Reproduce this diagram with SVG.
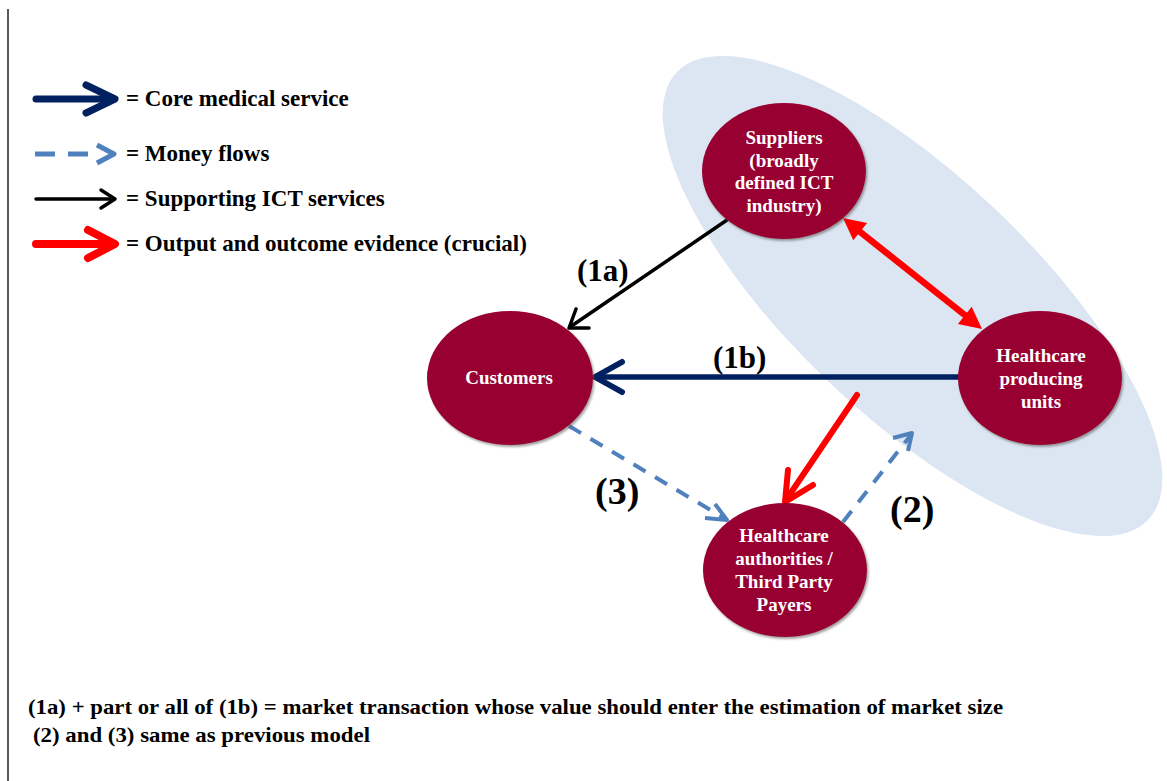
<svg xmlns="http://www.w3.org/2000/svg" width="1167" height="781" viewBox="0 0 1167 781">
  <defs>
    <filter id="nodeShadow" x="-10%" y="-10%" width="125%" height="125%">
      <feDropShadow dx="1.5" dy="2" stdDeviation="1" flood-color="#555" flood-opacity="0.55"/>
    </filter>
    <style>
      .bold { font-family: "Liberation Serif", "Times New Roman", serif; font-weight: bold; }
      .legend-text { font-size: 23px; fill: #000; }
      .node-shape { fill: #990033; filter: url(#nodeShadow); }
      .node-text { font-size: 19px; fill: #fff; text-anchor: middle; }
      .edge-label { fill: #000; }
      .core { stroke: #002060; fill: none; stroke-linecap: round; stroke-linejoin: round; }
      .money { stroke: #4F81BD; fill: none; stroke-linejoin: round; }
      .ict { stroke: #000; fill: none; stroke-linecap: round; stroke-linejoin: round; }
      .evidence { stroke: #FF0000; fill: none; stroke-linecap: round; stroke-linejoin: round; }
      .evidence-head { fill: #FF0000; }
      .note { font-size: 22px; fill: #000; }
    </style>
  </defs>

  <rect x="0" y="0" width="1167" height="781" fill="#fff"/>
  <!-- left margin rule -->
  <line x1="8" y1="9" x2="8" y2="781" stroke="#222" stroke-width="1.5"/>

  <!-- legend -->
  <g id="legend">
    <line class="core" x1="36" y1="99" x2="114" y2="99" stroke-width="7" stroke-linecap="butt"/>
    <path class="core" d="M86,85 L115,99 L86,113" stroke-width="7"/>
    <text class="bold legend-text" x="126" y="106">= Core medical service</text>

    <line class="money" x1="35" y1="154" x2="96" y2="154" stroke-width="5" stroke-dasharray="20 13"/>
    <path class="money" d="M97,145 L114,154 L97,163" stroke-width="5"/>
    <text class="bold legend-text" x="126" y="161">= Money flows</text>

    <line class="ict" x1="36" y1="199" x2="114" y2="199" stroke-width="3.5" stroke-linecap="butt"/>
    <path class="ict" d="M101,190 L115,199 L101,208" stroke-width="3.5"/>
    <text class="bold legend-text" x="126" y="206">= Supporting ICT services</text>

    <line class="evidence" x1="36" y1="244" x2="113" y2="244" stroke-width="8" stroke-linecap="butt"/>
    <path class="evidence" d="M88,230 L115,244 L88,258" stroke-width="8"/>
    <text class="bold legend-text" x="126" y="251">= Output and outcome evidence (crucial)</text>
  </g>

  <!-- shaded zone grouping suppliers and producing units -->
  <ellipse id="supply-zone" cx="912.5" cy="296" rx="325" ry="120" transform="rotate(43.5 912.5 296)" fill="#DCE6F2"/>

  <!-- connectors -->
  <g id="connectors">
    <!-- (1a) supporting ICT services: suppliers to customers -->
    <line class="ict" x1="727" y1="220" x2="570" y2="327" stroke-width="3.5"/>
    <path class="ict" d="M576,309 L569,328 L589,328" stroke-width="3.5"/>

    <!-- (1b) core medical service: producing units to customers -->
    <line class="core" x1="958" y1="377" x2="597" y2="377" stroke-width="5.5" stroke-linecap="butt"/>
    <path class="core" d="M622,362 L595,377 L622,392" stroke-width="6"/>

    <!-- evidence exchanged between suppliers and producing units -->
    <line class="evidence" x1="859" y1="231" x2="966" y2="316" stroke-width="6.5" stroke-linecap="butt"/>
    <polygon class="evidence-head" points="843,218 853.3,240.3 867.1,223.1"/>
    <polygon class="evidence-head" points="982,329 957.9,323.9 971.7,306.7"/>

    <!-- evidence from producing units to authorities -->
    <line class="evidence" x1="857" y1="395" x2="786" y2="500" stroke-width="6" stroke-linecap="butt"/>
    <path class="evidence" d="M788,470 L785,502 L813,485" stroke-width="6"/>

    <!-- (3) money: customers to authorities -->
    <line class="money" x1="569" y1="426" x2="724" y2="518" stroke-width="4" stroke-dasharray="14 11"/>
    <path class="money" d="M715,504 L727,520 L705,518" stroke-width="4"/>

    <!-- (2) money: authorities to producing units -->
    <line class="money" x1="843" y1="522" x2="910" y2="436" stroke-width="4" stroke-dasharray="14 11"/>
    <path class="money" d="M893,438 L912,433 L908,451" stroke-width="4"/>
  </g>

  <!-- nodes -->
  <g id="node-suppliers">
    <ellipse class="node-shape" cx="784" cy="171" rx="82" ry="68"/>
    <text class="bold node-text" x="784" y="144">Suppliers</text>
    <text class="bold node-text" x="784" y="167">(broadly</text>
    <text class="bold node-text" x="784" y="189">defined ICT</text>
    <text class="bold node-text" x="784" y="212">industry)</text>
  </g>

  <g id="node-producing-units">
    <ellipse class="node-shape" cx="1040" cy="378" rx="82" ry="67"/>
    <text class="bold node-text" x="1041" y="362">Healthcare</text>
    <text class="bold node-text" x="1041" y="385">producing</text>
    <text class="bold node-text" x="1041" y="408">units</text>
  </g>

  <g id="node-customers">
    <ellipse class="node-shape" cx="510" cy="378" rx="83" ry="67"/>
    <text class="bold node-text" x="509" y="384">Customers</text>
  </g>

  <g id="node-authorities">
    <ellipse class="node-shape" cx="785" cy="570" rx="82" ry="67"/>
    <text class="bold node-text" x="784" y="542">Healthcare</text>
    <text class="bold node-text" x="784" y="565">authorities /</text>
    <text class="bold node-text" x="784" y="588">Third Party</text>
    <text class="bold node-text" x="784" y="611">Payers</text>
  </g>

  <!-- connector labels -->
  <g id="edge-labels">
    <text class="bold edge-label" x="577" y="281" font-size="31">(1a)</text>
    <text class="bold edge-label" x="713" y="368" font-size="31">(1b)</text>
    <text class="bold edge-label" x="595" y="504" font-size="38">(3)</text>
    <text class="bold edge-label" x="890" y="522" font-size="38">(2)</text>
  </g>

  <!-- footnotes -->
  <g id="notes">
    <text class="bold note" x="28" y="714" textLength="975" lengthAdjust="spacingAndGlyphs">(1a) + part or all of (1b) = market transaction whose value should enter the estimation of market size</text>
    <text class="bold note" x="33" y="742" textLength="337" lengthAdjust="spacingAndGlyphs">(2) and (3) same as previous model</text>
  </g>
</svg>
